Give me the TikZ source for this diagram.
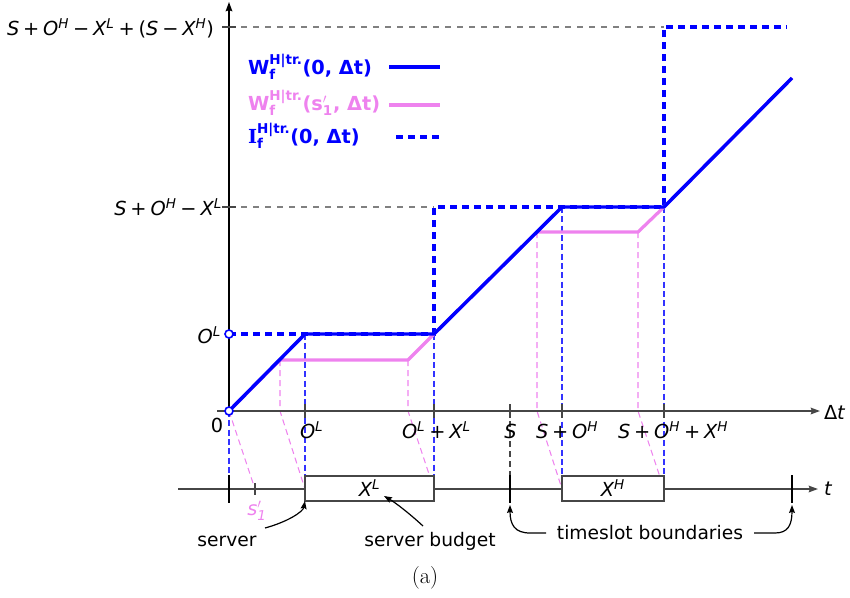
\documentclass[tikz,border=0pt]{standalone}
\usepackage{fontspec}
\setsansfont{DejaVu Sans}
\newfontfamily\serifbf{DejaVu Serif}
\usetikzlibrary{arrows.meta}
\definecolor{cblue}{RGB}{0,0,255}
\definecolor{cpink}{RGB}{238,130,238}
\definecolor{axisgray}{RGB}{70,70,70}
\definecolor{guidegray}{RGB}{128,128,128}
\makeatletter
% symbol with stacked super- and subscript, both in the current text font
\newcommand\supsub[3]{#1\ensuremath{^{\mbox{\fontsize\sf@size\z@\selectfont #2}}_{\mbox{\fontsize\sf@size\z@\selectfont #3}}}}
% symbol with a prime and a subscript
\newcommand\primesub[2]{#1\ensuremath{^{\prime}_{\mbox{\fontsize\sf@size\z@\selectfont #2}}}}
\makeatother
\newcommand\hi[1]{\textsuperscript{#1}}
\newcommand\opp{\hspace{0.2em}{\upshape+}\hspace{0.2em}}
\newcommand\opm{\hspace{0.2em}{\upshape−}\hspace{0.2em}}
\begin{document}
\begin{tikzpicture}[x=0.75pt,y=-0.75pt,
  font=\sffamily\fontsize{14.5}{17}\selectfont,
  every node/.style={inner sep=0pt,outer sep=0pt},
  axisline/.style={draw=axisgray,line width=1.1pt},
  tip/.style={-{Stealth[length=7pt,width=5pt,inset=1pt]}},
  smalltip/.style={-{Stealth[length=6pt,width=4.5pt,inset=1pt]}},
  guide/.style={draw=guidegray,line width=0.8pt,dash pattern=on 4.5pt off 4.5pt},
  dropblue/.style={draw=cblue!80,line width=0.8pt,dash pattern=on 4.5pt off 2.5pt},
  droppink/.style={draw=cpink,line width=0.8pt,dash pattern=on 4.5pt off 3pt},
  sdrop/.style={draw=axisgray,line width=0.8pt,dash pattern=on 4.5pt off 3pt},
  tickmark/.style={draw=axisgray,line width=0.9pt},
  curveW/.style={draw=cblue,line width=2.6pt,line join=round},
  curveWs/.style={draw=cpink,line width=2.4pt,line join=round},
  curveI/.style={draw=cblue,line width=2.5pt,dash pattern=on 5.5pt off 3.5pt},
  slot/.style={draw=axisgray,line width=1pt,fill=white,minimum height=18.75pt},
  legend/.style={anchor=base west,font=\sffamily\bfseries\fontsize{14.5}{17}\selectfont},
  lab/.style={font=\sffamily\fontsize{14}{17}\selectfont}]
\useasboundingbox (0,0) rectangle (850,597);

% ---- key points ----
\coordinate (O) at (229,411);
\coordinate (ytop) at (229,2);
\coordinate (xl) at (217,411);
\coordinate (xr) at (820,411);
\coordinate (yOL) at (229,334);
\coordinate (yA) at (229,207);
\coordinate (yB) at (229,27);
% supply W(0, dt)
\coordinate (w1) at (305,334);
\coordinate (w2) at (434,334);
\coordinate (w3) at (562,207);
\coordinate (w4) at (664,207);
\coordinate (w5) at (792,78);
% supply W(s1', dt)
\coordinate (p1) at (280,360);
\coordinate (p2) at (408,360);
\coordinate (p3) at (537,232);
\coordinate (p4) at (638,232);
% interference bound I(0, dt)
\coordinate (i1) at (664,27);
\coordinate (i2) at (787,27);
% time line
\coordinate (tlL) at (178,489);
\coordinate (tlR) at (818,489);
\coordinate (bxtop) at (0,476);
\coordinate (s1) at (255,489);
\coordinate (tS) at (510,489);
\coordinate (tE) at (792,489);

% ---- guide lines ----
\draw[guide] (yB) -- (i1);
\draw[guide] (yA) -- (w2 |- yA);

% ---- projections onto the time line ----
\draw[dropblue] (O) -- (O |- bxtop);
\foreach \q in {w1,w2,w3,w4} \draw[dropblue] (\q) -- (\q |- bxtop);
\draw[droppink] (O) -- (s1);
\draw[droppink] (p1) -- (p1 |- O) -- (w1 |- tlL);
\draw[droppink] (p2) -- (p2 |- O) -- (w2 |- tlL);
\draw[droppink] (p3) -- (p3 |- O) -- (w3 |- tlL);
\draw[droppink] (p4) -- (p4 |- O) -- (w4 |- tlL);
\draw[sdrop] (tS |- O) -- (tS);

% ---- time line with server slots ----
\draw[axisline,tip] (tlL) -- (tlR);
\node[anchor=west,font=\sffamily\itshape\fontsize{14.5}{17}\selectfont] (tlab) at (824,489) {t};
\draw[draw=black,line width=1pt] (229,475) -- (229,503);
\draw[draw=black,line width=1pt] (510,475) -- (510,503);
\draw[draw=black,line width=1pt] (792,475) -- (792,503);
\draw[tickmark] (255,483) -- (255,495);
\node[slot,minimum width=96.75pt] (bL) at (369.5,488.5) {\itshape X\hi{L}};
\node[slot,minimum width=76.5pt] (bH) at (613,488.5) {\itshape X\hi{H}};
\node[text=cpink,font=\sffamily\itshape\fontsize{14.5}{17}\selectfont] (s1lab) at (257,511) {\primesub{s}{1}};

% ---- axes ----
\draw[axisline,tip] (xl) -- (xr);
\draw[line width=1.1pt,tip] (O) -- (ytop);
\foreach \x in {305,434,510,562,664} \draw[tickmark] (\x,404) -- (\x,418);
\draw[tickmark] (222,207) -- (236,207);
\draw[tickmark] (222,27) -- (236,27);

% ---- curves ----
\draw[curveI] (yOL) -- (w2) -- (w2 |- yA) -- (w4) -- (i1) -- (i2);
\draw[curveWs] (O) -- (p1) -- (p2) -- (w2) -- (p3) -- (p4) -- (w4) -- (w5);
\draw[curveW] (O) -- (w1) -- (w2) -- (w3) -- (w4) -- (w5);
\draw[cblue,line width=1.2pt,fill=white] (O) circle[radius=3pt];
\draw[cblue,line width=1.2pt,fill=white] (yOL) circle[radius=3pt];

% ---- axis labels ----
\node[anchor=base east] (lB) at (214,35) {\itshape S\opp O\hi{H}\opm X\hi{L}\opp{\upshape(}S\opm X\hi{H}{\upshape)}};
\node[anchor=base east] (lA) at (222,215) {\itshape S\opp O\hi{H}\opm X\hi{L}};
\node[anchor=base east] (lOL) at (221,343) {\itshape O\hi{L}};
\node[anchor=base] (l0) at (217,432) {0};
\node[anchor=base west] (xOL) at (300,438) {\itshape O\hi{L}};
\node[anchor=base west] (xOLXL) at (402,438) {\itshape O\hi{L}\opp X\hi{L}};
\node[anchor=base] (xS) at (510.5,438) {\itshape S};
\node[anchor=base west] (xSOH) at (536,438) {\itshape S\opp O\hi{H}};
\node[anchor=base west] (xSOHXH) at (618,438) {\itshape S\opp O\hi{H}\opp X\hi{H}};
\node[anchor=west] (xdt) at (824,412) {Δ\textit{t}};

% ---- legend ----
\node[legend,text=cblue] (legW) at (248,74) {\supsub{W}{H|tr.}{f}(0, Δt)};
\node[legend,text=cpink] (legWs) at (248,110) {\supsub{W}{H|tr.}{f}(\primesub{s}{1}, Δt)};
\node[legend,text=cblue] (legI) at (248,143) {\supsub{{\serifbf\bfseries I}}{H|tr.}{f}(0, Δt)};
\draw[curveW] (389,67) -- (440,67);
\draw[curveWs] (389,105) -- (440,105);
\draw[curveI] (396,137) -- (441,137);

% ---- annotations ----
\node[lab] (srv) at (227,541) {server};
\node[lab] (bud) at (430,541) {server budget};
\node[lab] (tsb) at (650,533) {timeslot boundaries};
\coordinate (srvA) at (265,528);
\coordinate (budA) at (423,526);
\draw[line width=0.9pt,smalltip] (srvA) .. controls (287,522) and (303,512) .. (bL.south west);
\draw[line width=0.9pt,smalltip] (budA) .. controls (410,514) and (396,503) .. (384,496);
\draw[line width=0.9pt,smalltip] (546,533) -- (530,533) .. controls (515,533) and (510,525) .. (510,505);
\draw[line width=0.9pt,smalltip] (754,533) -- (775,533) .. controls (788,533) and (792,525) .. (792,505);
\node[font=\rmfamily\fontsize{17}{20}\selectfont] (cap) at (425,578) {(a)};
\end{tikzpicture}
\end{document}
